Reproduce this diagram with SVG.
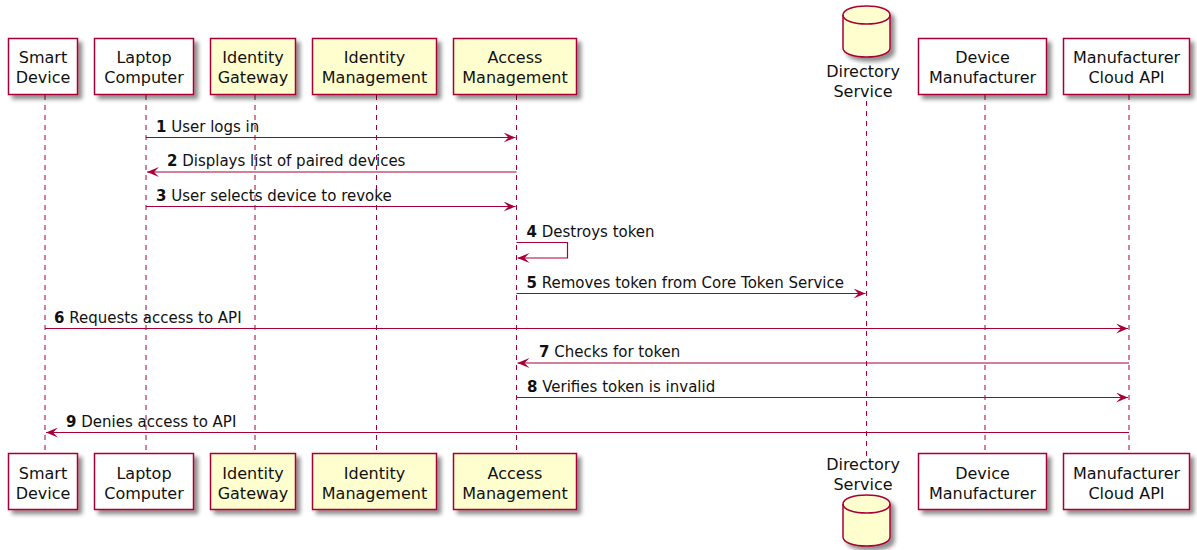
<svg xmlns="http://www.w3.org/2000/svg" width="1197" height="550" viewBox="0 0 1197 550">
<defs>
<filter id="sh" x="-20%" y="-20%" width="150%" height="150%">
<feGaussianBlur in="SourceAlpha" stdDeviation="2" result="b"/>
<feOffset in="b" dx="4" dy="4" result="o"/>
<feComponentTransfer in="o" result="s"><feFuncA type="linear" slope="0.45"/></feComponentTransfer>
<feMerge><feMergeNode in="s"/><feMergeNode in="SourceGraphic"/></feMerge>
</filter>
<marker id="ah" viewBox="0 0 12 10" refX="12" refY="5" markerWidth="12" markerHeight="10" markerUnits="userSpaceOnUse" orient="auto">
<polygon points="0,0 12,5 0,10 5,5" fill="#A80036"/>
</marker>
</defs>
<style>
.box{stroke:#A80036;stroke-width:1.5;filter:url(#sh)}
.w{fill:#FFFFFF}
.y{fill:#FEFECE}
.pt{font-family:"DejaVu Sans",sans-serif;font-size:16px;fill:#111;text-anchor:middle}
.life{stroke:#A80036;stroke-width:1;stroke-dasharray:5,5;fill:none}
.msg{stroke:#A80036;stroke-width:1.2;fill:none;marker-end:url(#ah)}
.mt{font-family:"DejaVu Sans",sans-serif;font-size:15px;fill:#111}
.mt tspan.n{font-weight:bold}
</style>
<rect width="1197" height="550" fill="#FFFFFF"/>
<g id="lifelines">
<line class="life" x1="45" y1="95" x2="45" y2="453"/>
<line class="life" x1="146" y1="95" x2="146" y2="453"/>
<line class="life" x1="255" y1="95" x2="255" y2="453"/>
<line class="life" x1="376.5" y1="95" x2="376.5" y2="453"/>
<line class="life" x1="516.5" y1="95" x2="516.5" y2="453"/>
<line class="life" x1="866.5" y1="101" x2="866.5" y2="456"/>
<line class="life" x1="985" y1="95" x2="985" y2="453"/>
<line class="life" x1="1129" y1="95" x2="1129" y2="453"/>
</g>
<g id="p-smart-device">
<rect class="box w" x="8.5" y="38.5" width="69" height="56"/>
<text class="pt" x="43" y="62.5">Smart</text><text class="pt" x="43" y="82.5">Device</text>
<rect class="box w" x="8.5" y="453.5" width="69" height="56"/>
<text class="pt" x="43" y="478.5">Smart</text><text class="pt" x="43" y="498.5">Device</text>
</g>
<g id="p-laptop">
<rect class="box w" x="94.5" y="38.5" width="99" height="56"/>
<text class="pt" x="144" y="62.5">Laptop</text><text class="pt" x="144" y="82.5">Computer</text>
<rect class="box w" x="94.5" y="453.5" width="99" height="56"/>
<text class="pt" x="144" y="478.5">Laptop</text><text class="pt" x="144" y="498.5">Computer</text>
</g>
<g id="p-identity-gateway">
<rect class="box y" x="210.5" y="38.5" width="85" height="56"/>
<text class="pt" x="253" y="62.5">Identity</text><text class="pt" x="253" y="82.5">Gateway</text>
<rect class="box y" x="210.5" y="453.5" width="85" height="56"/>
<text class="pt" x="253" y="478.5">Identity</text><text class="pt" x="253" y="498.5">Gateway</text>
</g>
<g id="p-identity-management">
<rect class="box y" x="312.5" y="38.5" width="124" height="56"/>
<text class="pt" x="374.5" y="62.5">Identity</text><text class="pt" x="374.5" y="82.5">Management</text>
<rect class="box y" x="312.5" y="453.5" width="124" height="56"/>
<text class="pt" x="374.5" y="478.5">Identity</text><text class="pt" x="374.5" y="498.5">Management</text>
</g>
<g id="p-access-management">
<rect class="box y" x="453.5" y="38.5" width="123" height="56"/>
<text class="pt" x="515" y="62.5">Access</text><text class="pt" x="515" y="82.5">Management</text>
<rect class="box y" x="453.5" y="453.5" width="123" height="56"/>
<text class="pt" x="515" y="478.5">Access</text><text class="pt" x="515" y="498.5">Management</text>
</g>
<g id="p-directory-service">
<path class="box y" d="M843,15 C843,3 890,3 890,15 L890,48 C890,60 843,60 843,48 Z"/>
<path d="M843,15 C843,27 890,27 890,15" fill="none" stroke="#A80036" stroke-width="1.5"/>
<text class="pt" x="863" y="77">Directory</text><text class="pt" x="863" y="96.5">Service</text>
<text class="pt" x="863" y="470">Directory</text><text class="pt" x="863" y="489.5">Service</text>
<path class="box y" d="M843,504 C843,492 890,492 890,504 L890,537 C890,549 843,549 843,537 Z"/>
<path d="M843,504 C843,516 890,516 890,504" fill="none" stroke="#A80036" stroke-width="1.5"/>
</g>
<g id="p-device-manufacturer">
<rect class="box w" x="918.5" y="38.5" width="128" height="56"/>
<text class="pt" x="982.5" y="62.5">Device</text><text class="pt" x="982.5" y="82.5">Manufacturer</text>
<rect class="box w" x="918.5" y="453.5" width="128" height="56"/>
<text class="pt" x="982.5" y="478.5">Device</text><text class="pt" x="982.5" y="498.5">Manufacturer</text>
</g>
<g id="p-manufacturer-cloud-api">
<rect class="box w" x="1063.5" y="38.5" width="126" height="56"/>
<text class="pt" x="1126.5" y="62.5">Manufacturer</text><text class="pt" x="1126.5" y="82.5">Cloud API</text>
<rect class="box w" x="1063.5" y="453.5" width="126" height="56"/>
<text class="pt" x="1126.5" y="478.5">Manufacturer</text><text class="pt" x="1126.5" y="498.5">Cloud API</text>
</g>
<g id="connectors">
<line class="msg" x1="146" y1="137.5" x2="515.5" y2="137.5"/>
<text class="mt" x="156" y="131.5"><tspan class="n">1</tspan> User logs in</text>
<line class="msg" x1="516.5" y1="172" x2="147" y2="172"/>
<text class="mt" x="167" y="166"><tspan class="n">2</tspan> Displays list of paired devices</text>
<line class="msg" x1="146" y1="206.5" x2="515.5" y2="206.5"/>
<text class="mt" x="156" y="200.5"><tspan class="n">3</tspan> User selects device to revoke</text>
<path class="msg" d="M516.5,242.5 H567.5 V258 H517.5"/>
<text class="mt" x="526.5" y="236.5"><tspan class="n">4</tspan> Destroys token</text>
<line class="msg" x1="516.5" y1="293.5" x2="865.5" y2="293.5"/>
<text class="mt" x="526.5" y="287.5"><tspan class="n">5</tspan> Removes token from Core Token Service</text>
<line class="msg" x1="45" y1="328.5" x2="1128" y2="328.5"/>
<text class="mt" x="54" y="322.5"><tspan class="n">6</tspan> Requests access to API</text>
<line class="msg" x1="1129" y1="363" x2="517.5" y2="363"/>
<text class="mt" x="539" y="357"><tspan class="n">7</tspan> Checks for token</text>
<line class="msg" x1="516.5" y1="397.5" x2="1128" y2="397.5"/>
<text class="mt" x="527" y="391.5"><tspan class="n">8</tspan> Verifies token is invalid</text>
<line class="msg" x1="1129" y1="432.5" x2="46" y2="432.5"/>
<text class="mt" x="66" y="426.5"><tspan class="n">9</tspan> Denies access to API</text>
</g>
</svg>
